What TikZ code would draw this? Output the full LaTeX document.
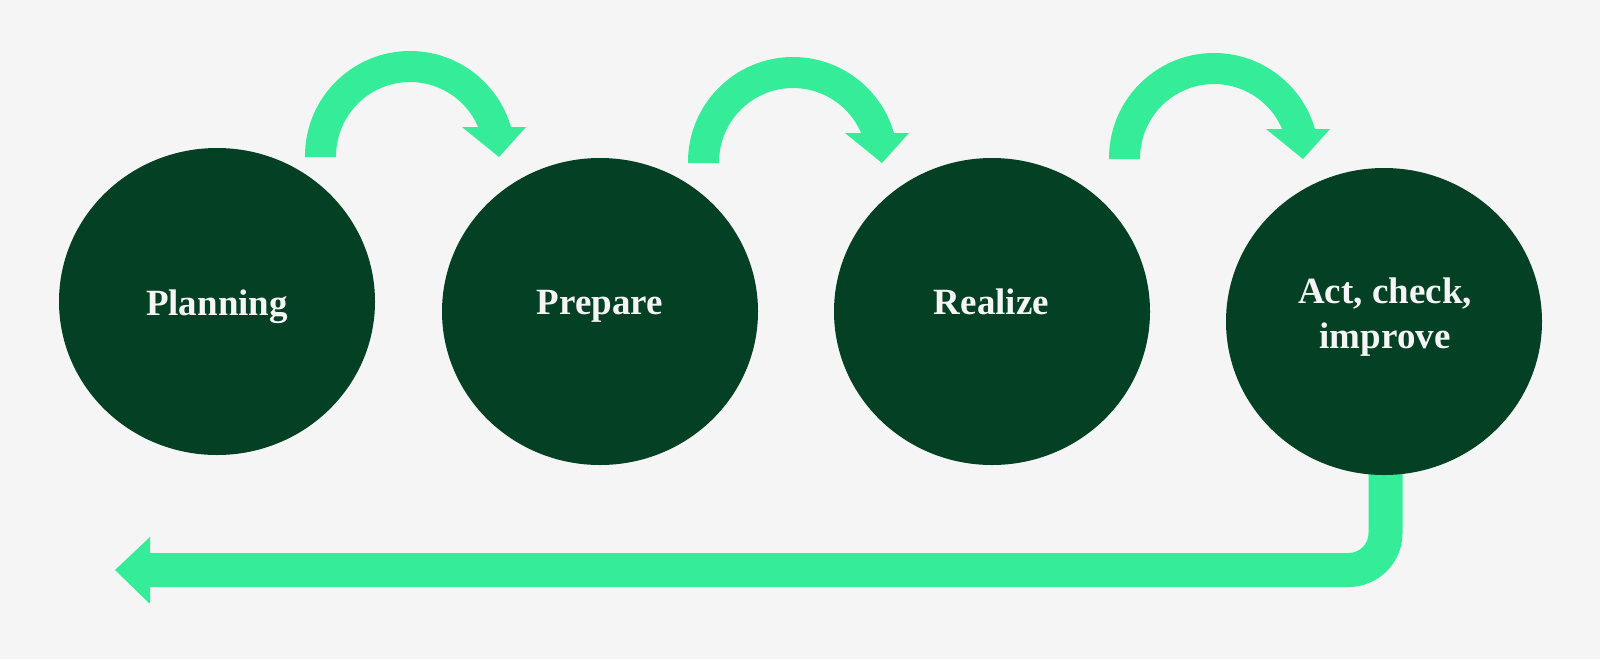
\documentclass[tikz,border=0pt]{standalone}
\usepackage{fontspec}
\setmainfont{Liberation Serif}
\usetikzlibrary{shapes.geometric}
\definecolor{bgc}{HTML}{F5F5F5}
\definecolor{darkg}{HTML}{044024}
\definecolor{lightg}{HTML}{35EC98}
\definecolor{txtc}{HTML}{F5F5F5}
\tikzset{
  stepcirc/.style={ellipse, fill=darkg, inner sep=0pt, minimum width=316pt, minimum height=307pt},
  steptext/.style={text=txtc, font=\bfseries\fontsize{37}{45}\selectfont, inner sep=0pt, anchor=base, align=center},
  uarrow/.pic={
    \fill[lightg] (-105,1) -- (-105,0) arc[start angle=180, end angle=344, radius=105]
      -- (116,-29) -- (89,1) -- (52,-29) -- (68.1,-29)
      arc[start angle=336.9, end angle=180, radius=74] -- (-74,1) -- cycle;
  },
  backline/.style={draw=lightg, line width=34pt, rounded corners=37pt}
}
\begin{document}
\begin{tikzpicture}[x=1pt, y=-1pt]
\useasboundingbox (0,0) rectangle (1600,659);
\fill[bgc] (0,0) rectangle (1600,659);
% circle positions
\coordinate (p1) at (217,301.5);
\coordinate (p2) at (600,311.5);
\coordinate (p3) at (992,311.5);
\coordinate (p4) at (1384,321.5);
% return connector (drawn first, hidden under last circle)
\coordinate (corner) at (1385.5,570);
\coordinate (endpt) at (149,570);
\draw[backline] (1385.5,400) -- (corner) -- (endpt);
\fill[lightg] (endpt) ++(1,0) -- ++(0,-33) -- (115,570) -- (149,603) -- ++(1,0) -- cycle;
% circles
\node[stepcirc] (c1) at (p1) {};
\node[stepcirc] (c2) at (p2) {};
\node[stepcirc] (c3) at (p3) {};
\node[stepcirc] (c4) at (p4) {};
% texts
\node[steptext] (t1) at (217,315) {Planning};
\node[steptext] (t2) at (600,314) {Prepare};
\node[steptext] (t3) at (991.5,314) {Realize};
\node[steptext] (t4) at (1385,348) {Act, check,\\improve};
% curved arrows between circles
\coordinate (a1) at (410,156);
\coordinate (a2) at (793,162);
\coordinate (a3) at (1214,158);
\pic at (a1) {uarrow};
\pic at (a2) {uarrow};
\pic at (a3) {uarrow};
\end{tikzpicture}
\end{document}
